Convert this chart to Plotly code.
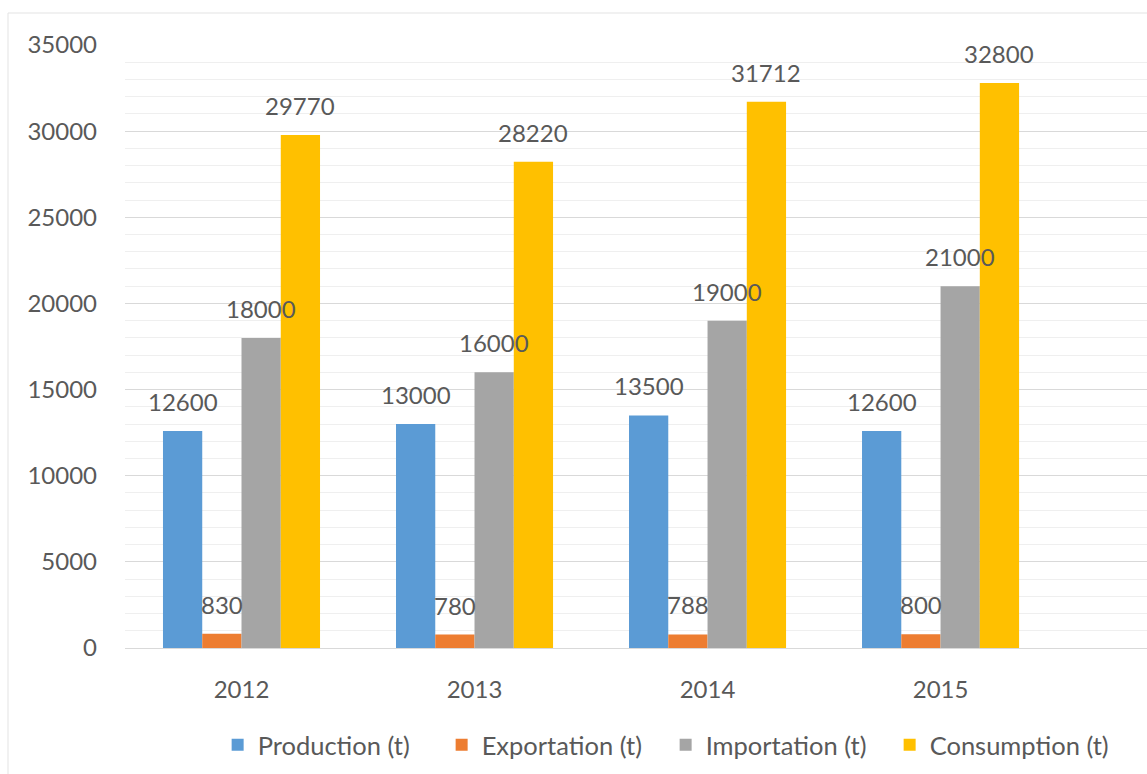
import plotly.graph_objects as go

years = ["2012", "2013", "2014", "2015"]
series_names = ["Production (t)", "Exportation (t)", "Importation (t)", "Consumption (t)"]
production = [12600, 13000, 13500, 12600]
exportation = [830, 780, 788, 800]
importation = [18000, 16000, 19000, 21000]
consumption = [29770, 28220, 31712, 32800]
colors = ["#5B9BD5", "#ED7D31", "#A5A5A5", "#FFC000"]
y_ticks = [0, 5000, 10000, 15000, 20000, 25000, 30000, 35000]

values = [production, exportation, importation, consumption]

W, H = 1147, 774
ML, MR, MT, MB = 125, 0, 45, 126
BARGAP = 0.326
X_RANGE = [-0.5, 3.886]
FONT = "Lato"
TXT = "#595959"
FS = 24
LFS = 25.5

fig = go.Figure()
for name, vals, col in zip(series_names, values, colors):
    fig.add_trace(go.Bar(x=years, y=vals, name=name, marker=dict(color=col, line=dict(width=0))))

# data labels as annotations centered on each bar
plot_w = W - ML - MR
cat_px = plot_w / (X_RANGE[1] - X_RANGE[0])
bar_px = cat_px * (1 - BARGAP) / len(values)
annotations = []
for i, vals in enumerate(values):
    for j, v in enumerate(vals):
        annotations.append(dict(
            x=j, y=v, xref="x", yref="y", text=str(v), showarrow=False,
            xshift=(i - (len(values) - 1) / 2) * bar_px, yshift=13,
            yanchor="bottom", xanchor="center",
            font=dict(family=FONT, size=FS, color=TXT),
        ))

fig.update_layout(
    width=W, height=H,
    margin=dict(l=ML, r=MR, t=MT, b=MB, pad=0),
    paper_bgcolor="white", plot_bgcolor="white",
    barmode="group", bargap=BARGAP, bargroupgap=0,
    font=dict(family=FONT, size=FS, color=TXT),
    annotations=annotations,
    showlegend=True,
    legend=dict(orientation="h", x=0.529, xanchor="center", y=-0.161, yanchor="middle",
                font=dict(family=FONT, size=LFS, color=TXT),
                entrywidth=179, entrywidthmode="pixels", traceorder="normal"),
    shapes=[dict(type="rect", xref="paper", yref="paper",
                 x0=(8 - ML) / plot_w, x1=1.2, y0=-0.5, y1=1 + (MT - 13) / (H - MT - MB),
                 line=dict(color="#e3e3e3", width=1), layer="below")],
)
fig.update_xaxes(type="category", range=X_RANGE, showgrid=False, showline=True,
                 linecolor="#d9d9d9", linewidth=1, ticks="", ticklabelstandoff=20,
                 tickfont=dict(family=FONT, size=FS, color=TXT), zeroline=False,
                 automargin=False)
fig.update_yaxes(range=[0, 35000], tickvals=y_ticks, tickformat="d", showgrid=True,
                 gridcolor="#d9d9d9", gridwidth=1, zeroline=False, showline=False, ticks="",
                 ticklabelstandoff=27, automargin=False,
                 minor=dict(dtick=1000, showgrid=True, gridcolor="#efefef", gridwidth=1),
                 tickfont=dict(family=FONT, size=FS, color=TXT))

fig.write_html("out.html", config={"displayModeBar": False},
               post_script="document.body.style.margin='0';document.body.style.overflow='hidden';")
